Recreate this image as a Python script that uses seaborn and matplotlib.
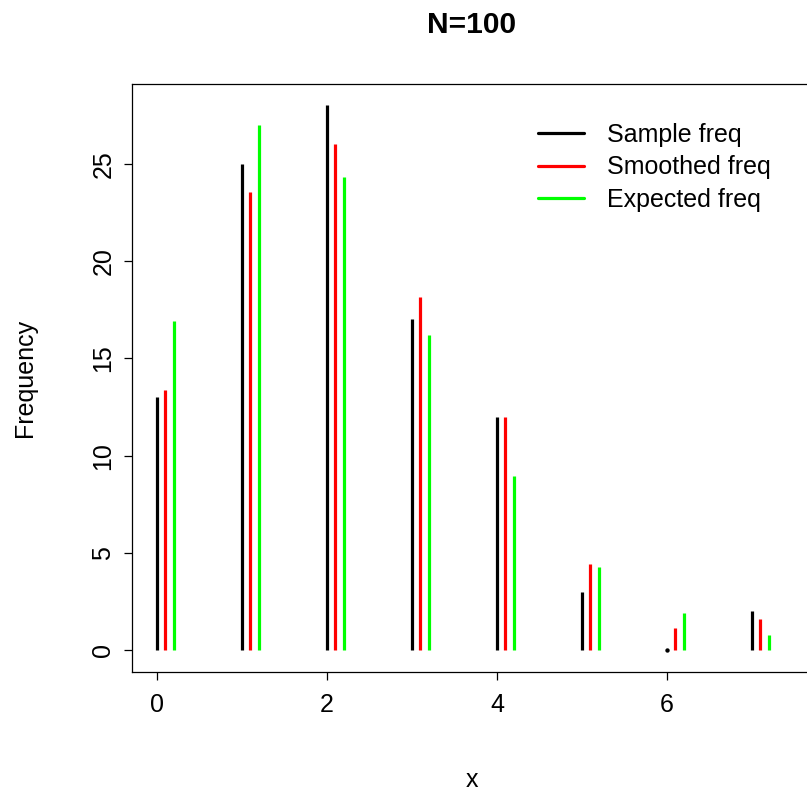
import numpy as np
import pandas as pd
import matplotlib
matplotlib.use("Agg")
import matplotlib.pyplot as plt
import seaborn as sns
from matplotlib.lines import Line2D

# ---- data ----
x_vals = [0, 1, 2, 3, 4, 5, 6, 7]
sample_freq = [13, 25, 28, 17, 12, 3, 0, 2]
smoothed_freq = [13.35, 23.55, 26.0, 18.15, 12.0, 4.42, 1.15, 1.58]
expected_freq = [16.9, 27.0, 24.3, 16.2, 8.95, 4.3, 1.89, 0.77]
series_names = ["Sample freq", "Smoothed freq", "Expected freq"]
series_colors = ["#000000", "#FF0000", "#00FF00"]
series_offsets = [0.0, 0.1, 0.2]
title_text = "N=100"
x_ticks = [0, 2, 4, 6]
y_ticks = [0, 5, 10, 15, 20, 25]

# long-format table: each spike is a vertical segment from 0 to its value
rows = []
uid = 0
for name, vals, off in zip(series_names, [sample_freq, smoothed_freq, expected_freq], series_offsets):
    for xv, v in zip(x_vals, vals):
        rows.append({"xpos": xv + off, "freq": 0.0, "series": name, "uid": uid})
        rows.append({"xpos": xv + off, "freq": v, "series": name, "uid": uid})
        uid += 1
df = pd.DataFrame(rows)

sns.set_theme(style="white")
plt.rcParams["font.family"] = ["Liberation Sans", "DejaVu Sans"]
plt.rcParams["text.color"] = "black"
plt.rcParams["axes.labelcolor"] = "black"
plt.rcParams["xtick.color"] = "black"
plt.rcParams["ytick.color"] = "black"

W, H = 807, 792
fig = plt.figure(figsize=(W / 100, H / 100), dpi=100)
L, R, T, B = 132, 812, 83.5, 672
ax = fig.add_axes([L / W, 1 - B / H, (R - L) / W, (B - T) / H])

pal = dict(zip(series_names, series_colors))
sns.lineplot(data=df, x="xpos", y="freq", hue="series", units="uid",
             estimator=None, sort=False, palette=pal,
             hue_order=series_names, linewidth=2.3, legend=False, ax=ax)
for ln in ax.lines:
    ln.set_solid_capstyle("butt")

# zero-height spikes show as a dot (as with round line ends)
zero = df[(df["freq"] == 0)].groupby("uid").first()
vals_by_uid = df.groupby("uid")["freq"].max()
zero = zero[vals_by_uid.loc[zero.index] == 0]
if len(zero):
    sns.scatterplot(data=zero, x="xpos", y="freq", hue="series", palette=pal,
                    s=10, linewidth=0, legend=False, ax=ax)

ax.set_xlim(-0.294, 7.706)
ax.set_ylim(-1.12, 29.12)
ax.set_xticks(x_ticks)
ax.set_yticks(y_ticks)
ax.set_xticklabels([str(t) for t in x_ticks], fontsize=18)
ax.set_yticklabels([str(t) for t in y_ticks], fontsize=18, rotation=90, va="center")
ax.tick_params(axis="both", which="major", direction="out", length=6, width=0.9,
               color="black", bottom=True, left=True, labelcolor="black")
ax.tick_params(axis="x", pad=9)
ax.tick_params(axis="y", pad=6)
for s in ax.spines.values():
    s.set_color("black")
    s.set_linewidth(0.9)
    s.set_visible(True)

ax.set_xlabel("x", fontsize=18, color="black")
ax.set_ylabel("Frequency", fontsize=18, color="black")
ax.xaxis.set_label_coords(0.5, (B - 780) / (B - T))
ax.xaxis.label.set_va("center")
ax.yaxis.set_label_coords((25 - L) / (R - L), 0.5)
ax.yaxis.label.set_va("center")
ax.text(0.5, (B - 25) / (B - T), title_text, transform=ax.transAxes,
        ha="center", va="center", fontsize=21.6, fontweight="bold", color="black")

handles = [Line2D([0], [0], color=c, lw=2.3) for c in series_colors]
leg = fig.legend(handles, series_names, loc="upper left",
                 bbox_to_anchor=(538 / W, 1 - 123 / H), frameon=False,
                 fontsize=18, handlelength=1.85, handletextpad=0.9,
                 labelspacing=0.33, borderpad=0, borderaxespad=0)
for t in leg.get_texts():
    t.set_color("black")

fig.savefig("out.png", dpi=100)
